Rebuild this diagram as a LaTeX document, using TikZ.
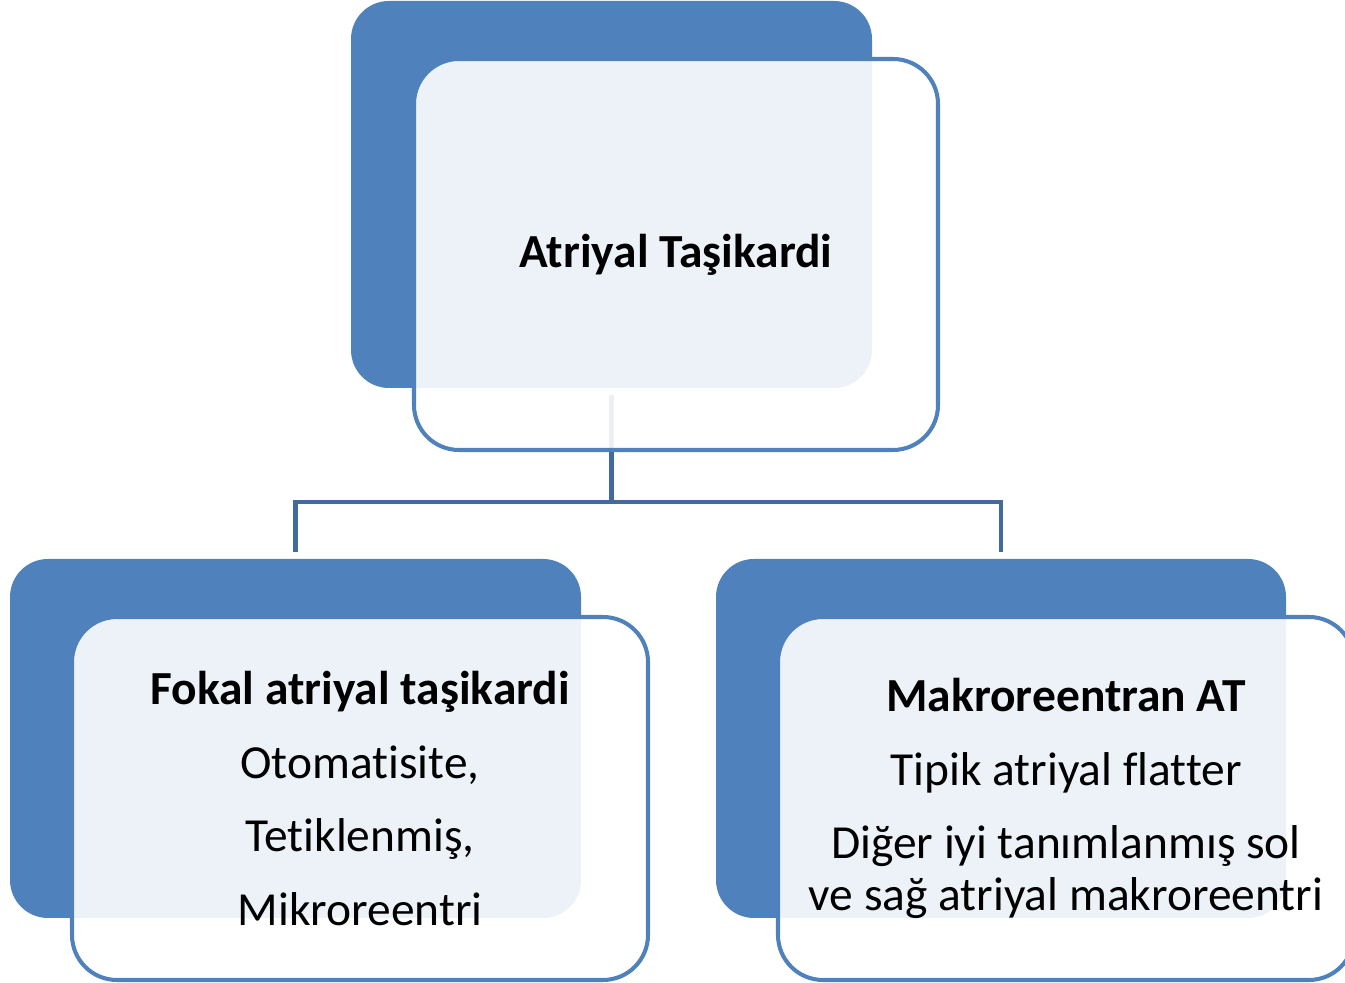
\documentclass[tikz,border=0pt]{standalone}
\usepackage{fontspec}
\setmainfont{Carlito}[Ligatures={NoCommon}]
\usetikzlibrary{positioning,calc}

\definecolor{boxblue}{RGB}{79,129,189}
\definecolor{linkblue}{RGB}{66,106,156}

\begin{document}
\begin{tikzpicture}
[back/.style = {fill = boxblue, rounded corners = 0.76cm, inner sep = 0pt},
 front/.style = {draw = boxblue, line width = 2.3pt, fill = white, fill opacity = 0.9, text opacity = 1,
   rounded corners = 0.9cm, align = center, inner sep = 0pt,
   font = \fontsize{27}{29.6}\selectfont},
 link/.style = {draw = linkblue, line width = 2.8pt},]
\useasboundingbox (0,0) rectangle (26.9,19.66);

% back boxes
\node (tback) at (12.23,15.77)[back,minimum width=10.42cm,minimum height=7.74cm] {};
\node (lback) at (5.91,4.89)[back,minimum width=11.42cm,minimum height=7.18cm] {};
\node (rback) at (20.02,4.89)[back,minimum width=11.40cm,minimum height=7.18cm] {};

% connectors
\coordinate (fork) at (12.23,9.62);
\draw[link,shorten <=0.14cm] (tback.south) -- (fork);
\draw[link,shorten >=0.14cm] (fork) -| (lback.north);
\draw[link,shorten >=0.14cm] (fork) -| (rback.north);

% front boxes
\node (tfront) at (13.52,14.57)[front,minimum width=10.48cm,minimum height=7.82cm] {\textbf{Atriyal Taşikardi}};
\node (lfront) at (7.2,3.69)[front,minimum width=11.52cm,minimum height=7.26cm]
  {\textbf{Fokal atriyal taşikardi}\\[12.3pt] Otomatisite,\\[12.3pt] Tetiklenmiş,\\[12.3pt] Mikroreentri};
\node (rfront) at (21.32,3.69)[front,minimum width=11.52cm,minimum height=7.26cm]
  {\textbf{Makroreentran AT}\\[12.3pt] Tipik atriyal flatter\\[12.3pt] Diğer iyi tanımlanmış sol\\ ve sağ atriyal makroreentri};

\end{tikzpicture}
\end{document}
